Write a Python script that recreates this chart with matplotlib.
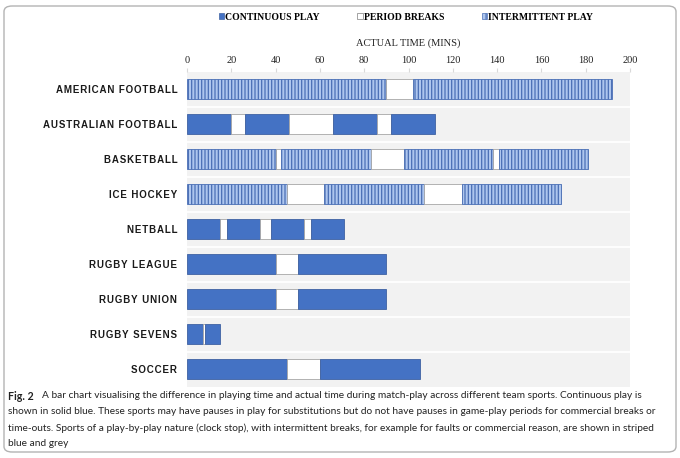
import numpy as np
import matplotlib.pyplot as plt
from matplotlib.patches import Rectangle, FancyBboxPatch

sports = ['AMERICAN FOOTBALL', 'AUSTRALIAN FOOTBALL', 'BASKETBALL', 'ICE HOCKEY',
          'NETBALL', 'RUGBY LEAGUE', 'RUGBY UNION', 'RUGBY SEVENS', 'SOCCER']

# minutes per segment, play and break alternating (starting with play)
american_football = [90, 12, 90]
australian_football = [20, 6, 20, 20, 20, 6, 20]
basketball = [40, 2.5, 40.5, 15, 40, 3, 40]
ice_hockey = [45, 17, 45, 17, 45]
netball = [15, 3, 15, 5, 15, 3, 15]
rugby_league = [40, 10, 40]
rugby_union = [40, 10, 40]
rugby_sevens = [7, 1, 7]
soccer = [45, 15, 45]

intermittent_sports = ['AMERICAN FOOTBALL', 'BASKETBALL', 'ICE HOCKEY']

xticks = [0, 20, 40, 60, 80, 100, 120, 140, 160, 180, 200]

segments = [american_football, australian_football, basketball, ice_hockey, netball,
            rugby_league, rugby_union, rugby_sevens, soccer]

W, H = 680, 458
fig = plt.figure(figsize=(W / 100, H / 100), dpi=100)
ax = fig.add_axes([187 / W, 1 - 386.5 / H, (630 - 187) / W, 315 / H])
ax.set_facecolor('#f2f2f2')

blue = '#4472c4'
plt.rcParams['hatch.linewidth'] = 0.9
bar_h = 0.59

for i, (name, segs) in enumerate(zip(sports, segments)):
    left = 0
    for j, d in enumerate(segs):
        if j % 2 == 1:
            ax.barh(i, d, left=left, height=bar_h, color='white', edgecolor='#a6a6a6',
                    linewidth=0.6, zorder=3)
        elif name in intermittent_sports:
            ax.barh(i, d, left=left, height=bar_h, color='#aec6ee', edgecolor='#4a6fb5',
                    hatch='|||||', linewidth=0.6, zorder=3)
        else:
            ax.barh(i, d, left=left, height=bar_h, color=blue, edgecolor='#3f62a3',
                    linewidth=0.6, zorder=3)
        left += d

for k in range(len(sports) - 1):
    ax.axhline(k + 0.5, color='white', lw=1.3, zorder=1)

ax.set_xlim(0, 200)
ax.set_ylim(len(sports) - 0.5, -0.5)
ax.set_xticks(xticks)
ax.xaxis.tick_top()
ax.xaxis.set_label_position('top')
ax.tick_params(axis='x', length=3, color='#d9d9d9', pad=2, labelsize=7.5,
               labelfontfamily='Liberation Serif', labelcolor='#222222')
ax.set_xlabel('ACTUAL TIME (MINS)', family='Liberation Serif', fontsize=7.5,
              labelpad=7, color='#222222')

ax.set_yticks(range(len(sports)))
spaced = ['\u200a'.join(s) for s in sports]
ax.set_yticklabels(spaced, family=['Liberation Sans', 'DejaVu Sans'], fontweight='bold',
                   fontsize=7, color='#1a1a1a')
ax.tick_params(axis='y', length=0, pad=7)
for s in ax.spines.values():
    s.set_visible(False)

# legend
handles = [Rectangle((0, 0), 1, 1, facecolor=blue, edgecolor='#3f62a3', lw=0.5),
           Rectangle((0, 0), 1, 1, facecolor='white', edgecolor='#7f7f7f', lw=0.5),
           Rectangle((0, 0), 1, 1, facecolor='#aec6ee', edgecolor='#4a6fb5', hatch='|||', lw=0.5)]
fig.legend(handles, ['CONTINUOUS PLAY', 'PERIOD BREAKS', 'INTERMITTENT PLAY'],
           loc='center', bbox_to_anchor=(406 / W, 1 - 17 / H), ncol=3, frameon=False,
           handlelength=0.55, handleheight=0.55, handletextpad=0.1, columnspacing=3.9,
           prop={'family': 'Liberation Serif', 'weight': 'bold', 'size': 7})

# outer frame
fig.patches.append(FancyBboxPatch((4 / W, 6 / H), 672 / W, 446 / H,
                                  boxstyle='round,pad=0,rounding_size=0.012',
                                  transform=fig.transFigure, facecolor='none',
                                  edgecolor='#b3b3b3', lw=1.0))

cap_font = ['Lato', 'DejaVu Sans']
lines = ['A bar chart visualising the difference in playing time and actual time during match-play across different team sports. Continuous play is',
         'shown in solid blue. These sports may have pauses in play for substitutions but do not have pauses in game-play periods for commercial breaks or',
         'time-outs. Sports of a play-by-play nature (clock stop), with intermittent breaks, for example for faults or commercial reason, are shown in striped',
         'blue and grey']
xs = [42, 8, 8, 8]
fig_lbl = fig.text(8 / W, 1 - 396 / H, 'Fig. 2', family=cap_font, fontweight='bold',
                   fontsize=8, va='center', color='#222222')
cap_texts = []
for k, (t, x0) in enumerate(zip(lines, xs)):
    cap_texts.append(fig.text(x0 / W, 1 - (396 + 16 * k) / H, t, family=cap_font,
                              fontsize=8, va='center', color='#222222'))

# shrink caption so the first line ends where it does in the print
fig.canvas.draw()
w1 = cap_texts[0].get_window_extent().width
size = 8 * 603 / w1
for t in cap_texts:
    t.set_fontsize(size)
fig_lbl.set_fontsize(size + 0.3)

fig.savefig('out.png', dpi=100)
